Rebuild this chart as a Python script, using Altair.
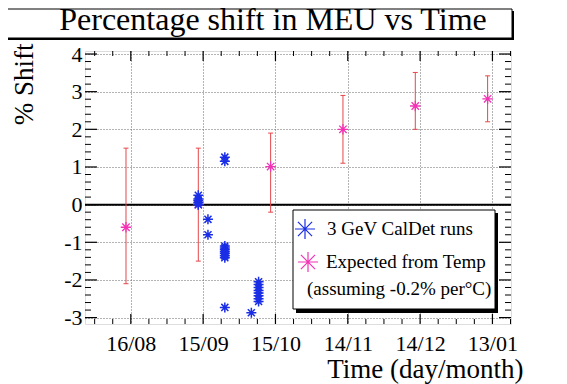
import altair as alt
import pandas as pd
import numpy as np

# ---------------- data (x = days since 16/08) ----------------
tick_days = [0, 30, 60, 90, 120, 150]
tick_labels = ["16/08", "15/09", "15/10", "14/11", "14/12", "13/01"]
y_ticks = [-3, -2, -1, 0, 1, 2, 3, 4]

blue_day = [28, 28, 28, 28, 28,
            32, 32,
            39, 39,
            39, 39, 39, 39, 39, 39, 39,
            39,
            50,
            53, 53, 53, 53, 53, 53, 53, 53]
blue_val = [0.25, 0.15, 0.10, 0.05, 0.0,
            -0.39, -0.80,
            1.26, 1.15,
            -1.10, -1.15, -1.20, -1.25, -1.30, -1.36, -1.41,
            -2.73,
            -2.87,
            -2.05, -2.12, -2.20, -2.28, -2.35, -2.42, -2.50, -2.57]

pink_day = [-2, 28, 58, 88, 118, 148]
pink_val = [-0.60, 0.0, 1.01, 2.0, 2.62, 2.81]
pink_lo = [-2.10, -1.50, -0.20, 1.10, 2.0, 2.20]
pink_hi = [1.50, 1.50, 1.90, 2.90, 3.51, 3.42]

title_text = "Percentage shift in MEU vs Time"
legend_texts = ["3 GeV CalDet runs", "Expected from Temp", "(assuming -0.2% per°C)"]

# ---------------- layout / style ----------------
W, H = 426, 273
XDOM = [-19, 157.7]
YDOM = [-3.17, 4.08]
FONT = "Liberation Serif"
BLUE = "#1a2ee6"
PINK = "#f233b5"
RED = "#e5474a"
STAR = "M-1,0L1,0M0,-1L0,1M-0.7071,-0.7071L0.7071,0.7071M-0.7071,0.7071L0.7071,-0.7071"

xs = alt.Scale(domain=XDOM, nice=False, zero=False)
ys = alt.Scale(domain=YDOM, nice=False, zero=False)

label_expr = "".join(f"datum.value == {d} ? '{l}' : " for d, l in zip(tick_days, tick_labels)) + "''"

xaxis = alt.Axis(values=tick_days, labelExpr=label_expr, grid=True, gridDash=[1, 2],
                 gridColor="#666", gridWidth=1, ticks=False, tickSize=0, domain=False,
                 labelFont=FONT, labelFontSize=22, labelColor="black", labelPadding=9,
                 labelOverlap=False, labelFlush=False,
                 title="Time (day/month)", titleFont=FONT, titleFontSize=27,
                 titleFontWeight="normal", titleColor="black", titleAlign="right",
                 titleBaseline="alphabetic", titleX=438, titleY=53)
yaxis = alt.Axis(values=y_ticks, labelExpr="'' + datum.value", grid=True, gridDash=[1, 2],
                 gridColor="#666", gridWidth=1, ticks=False, tickSize=0, domain=False,
                 labelFont=FONT, labelFontSize=22, labelColor="black", labelPadding=3,
                 labelOverlap=False,
                 title="% Shift", titleFont=FONT, titleFontSize=27, titleFontWeight="normal",
                 titleColor="black", titleAngle=270, titleAlign="right",
                 titleBaseline="alphabetic", titleX=-53, titleY=-8)

pink_df = pd.DataFrame({"d": pink_day, "v": pink_val, "lo": pink_lo, "hi": pink_hi})
blue_df = pd.DataFrame({"d": blue_day, "v": blue_val})

X = alt.X("d:Q", scale=xs, axis=xaxis)
Y = alt.Y("v:Q", scale=ys, axis=yaxis)

one = alt.Data(values=[{"a": 0}])

# zero line
zero = alt.Chart(pd.DataFrame({"v": [0.0]})).mark_rule(color="black", strokeWidth=2).encode(y=Y)

# error bars
err = alt.Chart(pink_df).mark_rule(color=RED, strokeWidth=1).encode(
    x=X, y=alt.Y("lo:Q", scale=ys, axis=yaxis), y2="hi:Q")
cap_lo = alt.Chart(pink_df).mark_rule(color=RED, strokeWidth=1, xOffset=-2.5, x2Offset=2.5).encode(
    x=X, x2="d:Q", y=alt.Y("lo:Q", scale=ys, axis=yaxis))
cap_hi = alt.Chart(pink_df).mark_rule(color=RED, strokeWidth=1, xOffset=-2.5, x2Offset=2.5).encode(
    x=X, x2="d:Q", y=alt.Y("hi:Q", scale=ys, axis=yaxis))

pink_pts = alt.Chart(pink_df).mark_point(shape=STAR, size=110, strokeWidth=1.3, filled=False,
                                         color=PINK, opacity=1).encode(x=X, y=Y)
blue_pts = alt.Chart(blue_df).mark_point(shape=STAR, size=100, strokeWidth=1.5, filled=False,
                                         color=BLUE, opacity=1).encode(x=X, y=Y)

# inside ticks (ROOT style)
y_minor = [round(v, 1) for v in np.arange(-3.0, 4.01, 0.2) if abs(v - round(v)) > 1e-6]
x_minor = [v for v in np.arange(-15, 157.6, 7.5) if v % 30 != 0]


def yticks(vals, length, width):
    df = pd.DataFrame({"v": vals})
    l = alt.Chart(df).mark_rule(color="black", strokeWidth=width).encode(
        y=Y, x=alt.value(0), x2=alt.value(length))
    r = alt.Chart(df).mark_rule(color="black", strokeWidth=width).encode(
        y=Y, x=alt.value(W), x2=alt.value(W - length))
    return [l, r]


def xticks(vals, length, width):
    df = pd.DataFrame({"d": vals})
    b = alt.Chart(df).mark_rule(color="black", strokeWidth=width).encode(
        x=X, y=alt.value(H), y2=alt.value(H - length))
    t = alt.Chart(df).mark_rule(color="black", strokeWidth=width).encode(
        x=X, y=alt.value(0), y2=alt.value(length))
    return [b, t]


ticks = yticks(y_ticks, 12, 1.2) + yticks(y_minor, 6, 1) + xticks(tick_days, 10, 1.2) + xticks(x_minor, 5, 1)

# title box
tb_shadow = alt.Chart(one).mark_rect(color="black").encode(
    x=alt.value(-78), x2=alt.value(429), y=alt.value(-40), y2=alt.value(-11))
tb_box = alt.Chart(one).mark_rect(fill="white", stroke="black", strokeWidth=1).encode(
    x=alt.value(-80), x2=alt.value(427), y=alt.value(-42), y2=alt.value(-13))
tb_text = alt.Chart(one).mark_text(text=title_text, font=FONT, fontSize=32, align="center",
                                   baseline="alphabetic", color="black").encode(
    x=alt.value(188), y=alt.value(-21))

# legend box
lg_shadow = alt.Chart(one).mark_rect(color="black").encode(
    x=alt.value(211), x2=alt.value(413), y=alt.value(162), y2=alt.value(262))
lg_box = alt.Chart(one).mark_rect(fill="white", stroke="black", strokeWidth=1).encode(
    x=alt.value(208), x2=alt.value(410), y=alt.value(159), y2=alt.value(258))
lg_blue = alt.Chart(one).mark_point(shape=STAR, size=400, strokeWidth=1.2, filled=False,
                                    color=BLUE, opacity=1).encode(x=alt.value(220), y=alt.value(178))
lg_pink = alt.Chart(one).mark_point(shape=STAR, size=400, strokeWidth=1.2, filled=False,
                                    color=PINK, opacity=1).encode(x=alt.value(223), y=alt.value(211))
lg_t1 = alt.Chart(one).mark_text(text=legend_texts[0], font=FONT, fontSize=19, align="left",
                                 baseline="alphabetic", color="black").encode(
    x=alt.value(242), y=alt.value(184))
lg_t2 = alt.Chart(one).mark_text(text=legend_texts[1], font=FONT, fontSize=19, align="left",
                                 baseline="alphabetic", color="black").encode(
    x=alt.value(241), y=alt.value(217))
lg_t3 = alt.Chart(one).mark_text(text=legend_texts[2], font=FONT, fontSize=19, align="left",
                                 baseline="alphabetic", color="black").encode(
    x=alt.value(222), y=alt.value(244))

chart = alt.layer(
    zero, err, cap_lo, cap_hi, pink_pts, blue_pts, *ticks,
    tb_shadow, tb_box, tb_text,
    lg_shadow, lg_box, lg_blue, lg_pink, lg_t1, lg_t2, lg_t3,
).properties(
    width=W, height=H,
    autosize=alt.AutoSizeParams(type="none"),
    padding={"left": 77, "top": 43, "right": 40, "bottom": 60},
).configure_view(stroke="black", strokeWidth=2.5).configure(background="white")

chart.save("out.html", embed_options={"renderer": "svg", "actions": False})
